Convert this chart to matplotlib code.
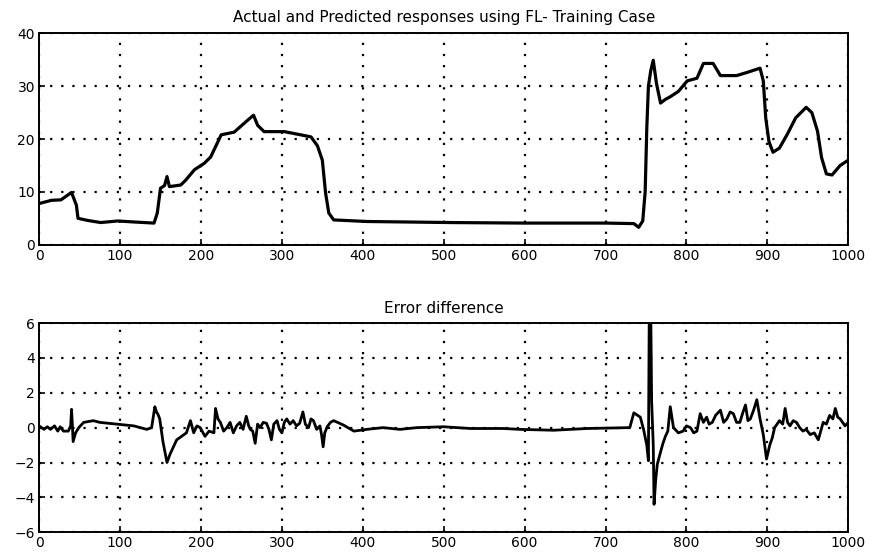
import matplotlib.pyplot as plt

plt.rcParams['font.family'] = ['DejaVu Sans']

# response of the plant (actual and FL-predicted lie on top of each other)
k_resp = [0, 15, 27, 40, 46, 48, 60, 76, 97, 118, 142, 146, 150, 155, 158, 161,
          175, 181, 192, 204, 212, 225, 241, 258, 265, 270, 278, 303, 323, 336,
          344, 350, 354, 358, 364, 405, 509, 600, 700, 735, 741, 746, 749, 751,
          753, 756, 759, 763, 768, 774, 780, 790, 801, 813, 821, 833, 842, 862,
          875, 891, 895, 898, 902, 907, 915, 925, 935, 948, 955, 962, 967, 973,
          980, 990, 1000]
y_resp = [7.8, 8.4, 8.5, 9.9, 7.5, 5.0, 4.6, 4.2, 4.5, 4.3, 4.1, 6.0, 10.7, 11.2,
          12.9, 11.0, 11.3, 12.2, 14.2, 15.4, 16.6, 20.8, 21.3, 23.6, 24.5, 22.6,
          21.4, 21.4, 20.8, 20.4, 18.7, 16.0, 9.8, 6.0, 4.7, 4.4, 4.2, 4.1, 4.1,
          4.0, 3.3, 4.5, 10.0, 22.0, 30.0, 33.0, 34.9, 30.5, 26.8, 27.5, 28.0,
          29.0, 31.0, 31.5, 34.3, 34.3, 32.0, 32.0, 32.6, 33.4, 31.0, 24.0, 19.5,
          17.5, 18.3, 21.0, 24.0, 26.0, 25.0, 21.5, 16.5, 13.4, 13.2, 15.0, 16.0]

# error between actual and predicted
k_err = [0, 6, 10, 14, 19, 23, 26, 30, 36, 39, 40, 41, 42, 45, 49, 55, 67, 75,
         96, 117, 133, 139, 143, 145, 147, 149, 153, 158, 162, 170, 176, 182,
         187, 191, 195, 199, 205, 210, 216, 218, 221, 224, 228, 232, 236, 240,
         244, 248, 252, 256, 259, 261, 264, 267, 270, 273, 277, 281, 284, 287,
         290, 294, 297, 300, 303, 306, 310, 314, 318, 322, 326, 329, 333, 336,
         339, 343, 347, 349, 351, 353, 356, 360, 364, 376, 389, 405, 425, 446,
         467, 500, 533, 574, 594, 636, 677, 730, 735, 743, 747, 751, 753, 754,
         756, 757, 759, 760, 762, 764, 768, 771, 774, 777, 780, 784, 790, 796,
         800, 805, 809, 813, 817, 821, 825, 828, 832, 836, 842, 846, 850, 854,
         858, 862, 866, 870, 873, 876, 879, 883, 887, 891, 895, 899, 901, 903,
         906, 909, 915, 919, 922, 925, 928, 932, 936, 940, 944, 948, 953, 958,
         963, 969, 973, 977, 981, 984, 987, 990, 996, 1000]
y_err = [0.1, -0.1, 0.05, -0.1, 0.1, -0.2, 0.05, -0.2, -0.2, 0.1, 1.05, 0.2, -0.8,
         -0.3, 0.0, 0.3, 0.4, 0.3, 0.2, 0.1, -0.1, 0.0, 1.2, 0.9, 0.75, 0.5, -0.8,
         -2.0, -1.5, -0.7, -0.5, -0.3, 0.4, -0.3, 0.1, 0.0, -0.5, -0.2, -0.3, 1.1,
         0.5, 0.3, -0.2, 0.0, 0.3, -0.3, 0.1, 0.3, -0.1, 0.65, 0.1, -0.1, -0.2,
         -0.9, 0.2, 0.0, 0.3, 0.25, -0.1, -0.7, 0.2, 0.4, -0.1, -0.3, 0.3, 0.5,
         0.2, 0.4, 0.1, 0.25, 0.9, 0.2, 0.0, 0.5, 0.4, -0.1, 0.1, -0.4, -1.1, -0.3,
         0.05, 0.3, 0.4, 0.15, -0.2, -0.1, 0.0, -0.1, 0.0, 0.05, -0.05, -0.05,
         -0.1, -0.15, -0.05, 0.0, 0.85, 0.6, -0.1, -1.0, -1.9, 6.3, 6.3, 1.5,
         -1.0, -4.4, -3.0, -2.1, -1.4, -0.9, -0.5, -0.2, 1.2, 0.0, -0.3, -0.2,
         0.1, 0.0, -0.3, -0.2, 0.8, 0.3, 0.6, 0.2, 0.3, 0.7, 1.0, 0.3, 0.5, 0.9,
         0.8, 0.3, 0.3, 0.9, 1.3, 0.4, 0.5, 1.0, 1.6, 0.5, -0.4, -1.8, -1.4, -1.0,
         -0.6, 0.0, 0.4, 0.2, 1.1, 0.3, 0.1, 0.4, 0.3, 0.0, -0.2, -0.1, -0.4,
         -0.3, -0.7, 0.3, 0.2, 0.7, 0.5, 1.1, 0.6, 0.5, 0.1, 0.3]

x_ticks = [0, 100, 200, 300, 400, 500, 600, 700, 800, 900, 1000]

fig = plt.figure(figsize=(8.7, 5.55), dpi=100)
ax1 = fig.add_axes([0.045, 0.559, 0.93, 0.381])
ax2 = fig.add_axes([0.045, 0.041, 0.93, 0.377])


def style(ax, yticks):
    ax.set_xlim(0, 1000)
    ax.set_xticks(x_ticks)
    ax.set_yticks(yticks)
    ax.set_ylim(yticks[0], yticks[-1])
    ax.grid(True, color='black', linestyle=(0, (1, 4)), linewidth=1.6)
    ax.tick_params(direction='in', length=4, width=1.2, labelsize=10, pad=3)
    for s in ax.spines.values():
        s.set_linewidth(1.4)


ax1.plot(k_resp, y_resp, color='black', linewidth=2.3)
style(ax1, [0, 10, 20, 30, 40])
ax1.set_title('Actual and Predicted responses using FL- Training Case',
              fontsize=11, pad=8)

ax2.plot(k_err, y_err, color='black', linewidth=2.0)
style(ax2, [-6, -4, -2, 0, 2, 4, 6])
ax2.set_title('Error difference', fontsize=11, pad=7)

fig.savefig('out.png', dpi=100)
